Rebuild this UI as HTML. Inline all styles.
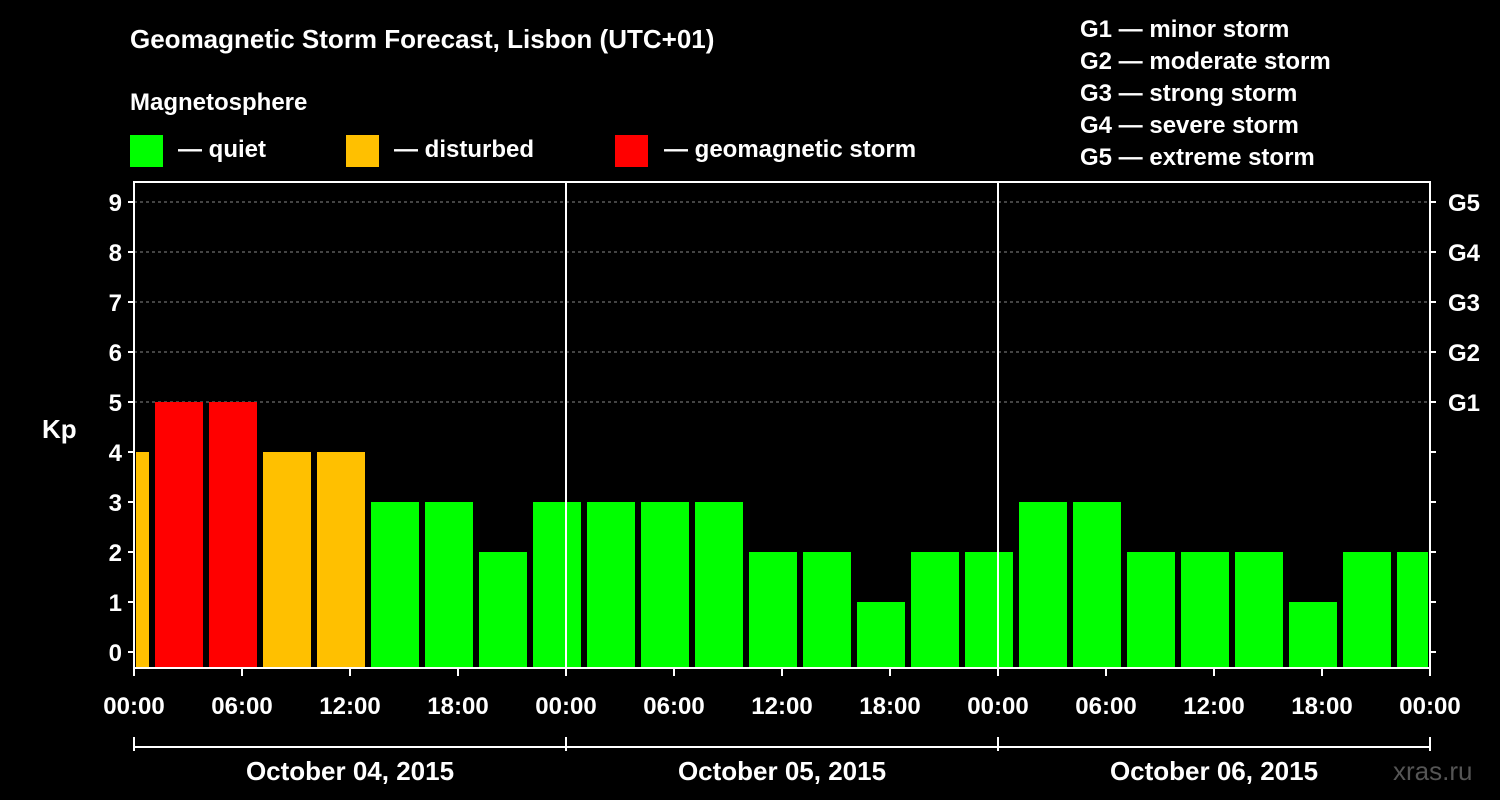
<!DOCTYPE html>
<html><head><meta charset="utf-8"><style>
body{margin:0;background:#000;}
svg{display:block;font-family:"Liberation Sans",sans-serif;font-weight:bold;}
</style></head><body>
<svg id="chart" width="1500" height="800" viewBox="0 0 1500 800">
<rect width="1500" height="800" fill="#000"/>
<text x="130" y="48" fill="#fff" font-size="26">Geomagnetic Storm Forecast, Lisbon (UTC+01)</text>
<text x="130" y="110" fill="#fff" font-size="24">Magnetosphere</text>
<g><rect x="130" y="135" width="33" height="32" fill="#00ff00"/><text x="178" y="157" fill="#fff" font-size="24">— quiet</text></g>
<g><rect x="346" y="135" width="33" height="32" fill="#ffc000"/><text x="394" y="157" fill="#fff" font-size="24">— disturbed</text></g>
<g><rect x="615" y="135" width="33" height="32" fill="#ff0000"/><text x="664" y="157" fill="#fff" font-size="24">— geomagnetic storm</text></g>
<g fill="#fff" font-size="24">
<text x="1080" y="37">G1 — minor storm</text><text x="1080" y="69">G2 — moderate storm</text><text x="1080" y="101">G3 — strong storm</text><text x="1080" y="133">G4 — severe storm</text><text x="1080" y="165">G5 — extreme storm</text></g>
<text x="42" y="438" fill="#fff" font-size="26">Kp</text>
<g id="grid"></g><g id="bars"></g><g id="axes"></g>
<text x="1393" y="780" fill="#555" font-size="26" font-weight="normal">xras.ru</text>
</svg>
<script>
const kpValues=[4,5,5,4,4,3,3,2,3,3,3,3,2,2,1,2,2,3,3,2,2,2,1,2,2];
const yTicks=[0,1,2,3,4,5,6,7,8,9];
const gLabels=["G1","G2","G3","G4","G5"];
const xTickLabels=["00:00","06:00","12:00","18:00","00:00","06:00","12:00","18:00","00:00","06:00","12:00","18:00","00:00"];
const dayLabels=["October 04, 2015","October 05, 2015","October 06, 2015"];
const NS="http://www.w3.org/2000/svg";
const X0=134,X1=1430,TOP=182,BOT=668;
const hourW=(X1-X0)/72;
const x=h=>X0+h*hourW;
const y=v=>652-v*50;
function mk(t,a,p){const e=document.createElementNS(NS,t);for(const k in a)e.setAttribute(k,a[k]);p.appendChild(e);return e;}
const grid=document.getElementById('grid'),bars=document.getElementById('bars'),axes=document.getElementById('axes');
for(let v=5;v<=9;v++){const l=mk('line',{x1:X0,x2:X1,y1:y(v),y2:y(v),stroke:'#888','stroke-dasharray':'3,3'},grid);

}
kpValues.forEach((v,i)=>{
 let s=x(3*i-2)+3,e=x(3*i+1)-3;
 s=Math.max(s,X0+2);e=Math.min(e,X1-2);
 const c=v>=5?'#ff0000':v>=4?'#ffc000':'#00ff00';
 const r=mk('rect',{x:s,y:y(v),width:e-s,height:BOT-y(v),fill:c},bars);
 
 
});
const f=mk('rect',{x:X0,y:TOP,width:X1-X0,height:BOT-TOP,fill:'none',stroke:'#fff','stroke-width':2},axes);


[24,48].forEach(h=>{const l=mk('line',{x1:x(h),x2:x(h),y1:TOP,y2:BOT,stroke:'#fff','stroke-width':2},axes);

});
yTicks.forEach(v=>{
 mk('line',{x1:X0-6,x2:X0,y1:y(v),y2:y(v),stroke:'#fff','stroke-width':2},axes);
 mk('line',{x1:X1,x2:X1+6,y1:y(v),y2:y(v),stroke:'#fff','stroke-width':2},axes);
 const t=mk('text',{x:X0-12,y:y(v)+9,fill:'#fff','font-size':24,'text-anchor':'end'},axes);t.textContent=v;
 
 
});
gLabels.forEach((g,i)=>{const t=mk('text',{x:1448,y:y(5+i)+9,fill:'#fff','font-size':24},axes);t.textContent=g;
 
 });
xTickLabels.forEach((s,i)=>{
 mk('line',{x1:x(6*i),x2:x(6*i),y1:BOT,y2:BOT+8,stroke:'#fff','stroke-width':2},axes);
 const t=mk('text',{x:x(6*i),y:714,fill:'#fff','font-size':24,'text-anchor':'middle'},axes);t.textContent=s;
 
 
});
mk('line',{x1:X0,x2:X1,y1:747,y2:747,stroke:'#fff','stroke-width':2},axes);
[0,24,48,72].forEach(h=>mk('line',{x1:x(h),x2:x(h),y1:737,y2:751,stroke:'#fff','stroke-width':2},axes));
dayLabels.forEach((s,i)=>{const t=mk('text',{x:x(24*i+12),y:780,fill:'#fff','font-size':26,'text-anchor':'middle'},axes);t.textContent=s;
 
 });
</script>
</body></html>
